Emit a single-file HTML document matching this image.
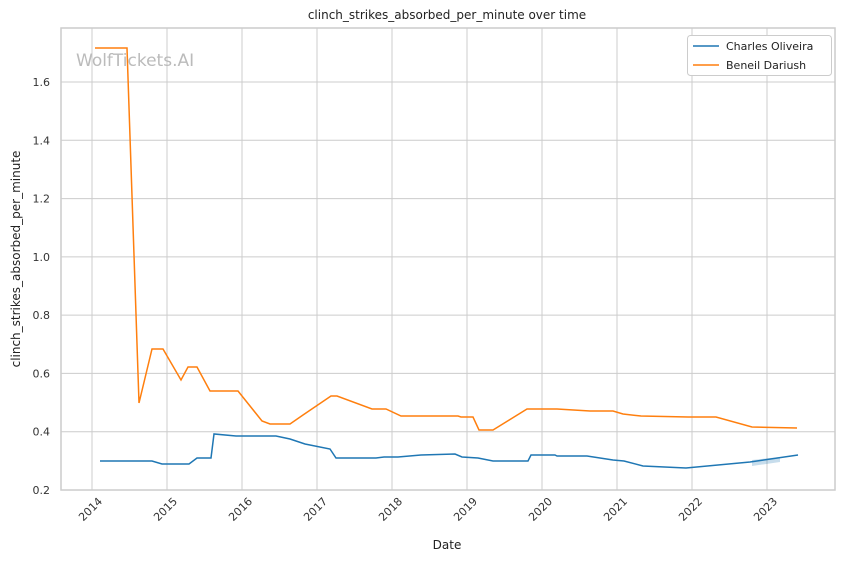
<!DOCTYPE html>
<html><head><meta charset="utf-8"><style>
body{margin:0;background:#fff;}
svg{display:block;font-family:"DejaVu Sans","Liberation Sans",sans-serif;}
</style></head><body>
<svg width="844" height="561" viewBox="0 0 844 561">
<rect x="0" y="0" width="844" height="561" fill="#fff"/>
<g stroke="#cccccc" stroke-width="1">
<line x1="92" y1="28" x2="92" y2="490"/><line x1="167" y1="28" x2="167" y2="490"/><line x1="242" y1="28" x2="242" y2="490"/><line x1="317" y1="28" x2="317" y2="490"/><line x1="392" y1="28" x2="392" y2="490"/><line x1="467" y1="28" x2="467" y2="490"/><line x1="542" y1="28" x2="542" y2="490"/><line x1="617" y1="28" x2="617" y2="490"/><line x1="692" y1="28" x2="692" y2="490"/><line x1="767" y1="28" x2="767" y2="490"/>
<line x1="61" y1="431.7" x2="835" y2="431.7"/><line x1="61" y1="373.4" x2="835" y2="373.4"/><line x1="61" y1="315.1" x2="835" y2="315.1"/><line x1="61" y1="256.9" x2="835" y2="256.9"/><line x1="61" y1="198.6" x2="835" y2="198.6"/><line x1="61" y1="140.3" x2="835" y2="140.3"/><line x1="61" y1="82" x2="835" y2="82"/>
</g>
<rect x="61" y="28" width="774" height="462" fill="none" stroke="#cccccc" stroke-width="1.5"/>
<text x="76" y="66" font-size="17" fill="#bbbbbb">WolfTickets.AI</text>
<polygon points="752,460 780,457 780,462 752,466" fill="#1f77b4" opacity="0.25"/>
<polyline fill="none" stroke="#ff7f0e" stroke-width="1.5" points="95,48 127,48 139,403 152,349 163,349 181,380 188,367 197,367 210,391 238,391 262,421 270,424 290,424 303,415 331,396 337,396 372,409 386,409 401,416 458,416 461,417 473,417 479,430 493,430 527,409 557,409 590,411 613,411 623,414 641,416 688,417 716,417 752,427 797,428"/>
<polyline fill="none" stroke="#1f77b4" stroke-width="1.5" points="100,461 152,461 162,464 189,464 197,458 211,458 214,434 236,436 276,436 290,439 305,444 330,449 336,458 376,458 384,457 398,457 421,455 455,454 462,457 478,458 493,461 528,461 531,455 555,455 557,456 587,456 613,460 624,461 643,466 686,468 750,462 798,455"/>
<g font-size="11" fill="#333" text-anchor="end">
<text x="50" y="494">0.2</text><text x="50" y="435.7">0.4</text><text x="50" y="377.4">0.6</text><text x="50" y="319.1">0.8</text><text x="50" y="260.9">1.0</text><text x="50" y="202.6">1.2</text><text x="50" y="144.3">1.4</text><text x="50" y="86">1.6</text>
</g>
<g font-size="11" fill="#333" text-anchor="end">
<text transform="translate(103,502) rotate(-45)">2014</text><text transform="translate(178,502) rotate(-45)">2015</text><text transform="translate(253,502) rotate(-45)">2016</text><text transform="translate(328,502) rotate(-45)">2017</text><text transform="translate(403,502) rotate(-45)">2018</text><text transform="translate(478,502) rotate(-45)">2019</text><text transform="translate(553,502) rotate(-45)">2020</text><text transform="translate(628,502) rotate(-45)">2021</text><text transform="translate(703,502) rotate(-45)">2022</text><text transform="translate(778,502) rotate(-45)">2023</text>
</g>
<text x="447" y="549" font-size="12" fill="#222" text-anchor="middle">Date</text>
<text transform="translate(20,259) rotate(-90)" font-size="12" fill="#222" text-anchor="middle">clinch_strikes_absorbed_per_minute</text>
<text x="447" y="19" font-size="12" fill="#222" text-anchor="middle">clinch_strikes_absorbed_per_minute over time</text>
<rect x="687.5" y="35.5" width="144" height="40" rx="3" fill="#fff" stroke="#cccccc"/>
<line x1="693" y1="46" x2="719" y2="46" stroke="#1f77b4" stroke-width="1.5"/>
<line x1="693" y1="65" x2="719" y2="65" stroke="#ff7f0e" stroke-width="1.5"/>
<text x="726" y="50" font-size="11" fill="#222">Charles Oliveira</text>
<text x="726" y="69" font-size="11" fill="#222">Beneil Dariush</text>
</svg>
</body></html>
